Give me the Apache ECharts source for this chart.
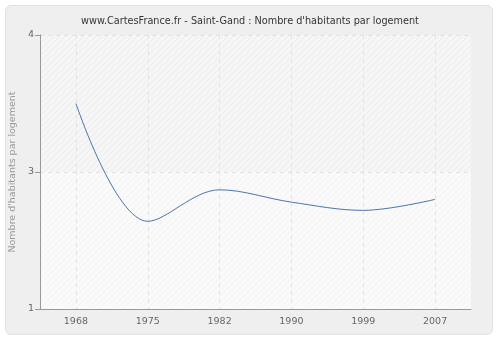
<!DOCTYPE html>
<html><head><meta charset="utf-8">
<script src="https://cdn.jsdelivr.net/npm/echarts@6/dist/echarts.min.js"></script>
<style>
html,body{margin:0;padding:0;background:#fff;}
#box{position:absolute;left:5px;top:5px;width:488px;height:330px;background:#efefef;border:1px solid #e2e2e2;border-radius:6px;box-sizing:border-box;}
#c{position:absolute;left:0;top:0;width:500px;height:340px;}
</style></head>
<body>
<div id="box"></div>
<div id="c"></div>
<script>
const years = ['1968','1975','1982','1990','1999','2007'];
const values = [3.5, 2.64, 2.87, 2.78, 2.72, 2.80];
const yTickValues = [2, 3, 4];
const yTickLabels = ['1', '3', '4'];

function hatch(bg, fg){
  const c = document.createElement('canvas'); c.width = 6; c.height = 6;
  const g = c.getContext('2d');
  g.fillStyle = bg; g.fillRect(0,0,6,6);
  g.strokeStyle = fg; g.lineWidth = 1;
  g.beginPath(); g.moveTo(0,6); g.lineTo(6,0); g.moveTo(-3,3); g.lineTo(3,-3); g.moveTo(3,9); g.lineTo(9,3); g.stroke();
  return {image: c, repeat: 'repeat'};
}

const chart = echarts.init(document.getElementById('c'), null, {renderer:'canvas'});
chart.setOption({
  backgroundColor: 'transparent',
  animation: false,
  title: {
    text: "www.CartesFrance.fr - Saint-Gand : Nombre d'habitants par logement",
    left: 'center', top: 11,
    textStyle: {fontFamily: 'DejaVu Sans', fontSize: 9.7, fontWeight: 'normal', color: '#333'}
  },
  grid: {left: 40, right: 29, top: 35, bottom: 31, outerBoundsMode: 'none', containLabel: false,
    show: true, backgroundColor: '#f9f9f9', borderWidth: 0},
  xAxis: {
    type: 'category', data: years, boundaryGap: true,
    axisLine: {lineStyle: {color: '#999'}},
    axisTick: {alignWithLabel: true, length: 5, lineStyle: {color: '#999'}},
    axisLabel: {color: '#666', fontFamily: 'DejaVu Sans', fontSize: 9.5, margin: 8},
    splitLine: {show: true, alignWithLabel: true, lineStyle: {color: '#e2e2e2', type: [4, 4]}}
  },
  yAxis: {
    type: 'value', min: 2, max: 4, interval: 1,
    name: "Nombre d'habitants par logement", nameLocation: 'middle', nameGap: 18,
    nameTextStyle: {color: '#999', fontFamily: 'DejaVu Sans', fontSize: 9.5},
    axisLine: {show: true, lineStyle: {color: '#999'}},
    axisTick: {show: true, length: 5, lineStyle: {color: '#999'}},
    axisLabel: {color: '#666', fontFamily: 'DejaVu Sans', fontSize: 9.5, margin: 6,
      formatter: v => { const i = yTickValues.indexOf(v); return i >= 0 ? yTickLabels[i] : ''; }},
    splitLine: {show: true, lineStyle: {color: '#e2e2e2', type: [4, 4]}},
    splitArea: {show: true, areaStyle: {color: [hatch('#fafafa', '#f3f3f3'), hatch('#f6f6f6', '#ebebeb')]}}
  },
  series: [{
    type: 'line', data: values, smooth: 0.35, symbol: 'none',
    lineStyle: {color: '#4a76ad', width: 1}
  }]
});
</script>
</body></html>
